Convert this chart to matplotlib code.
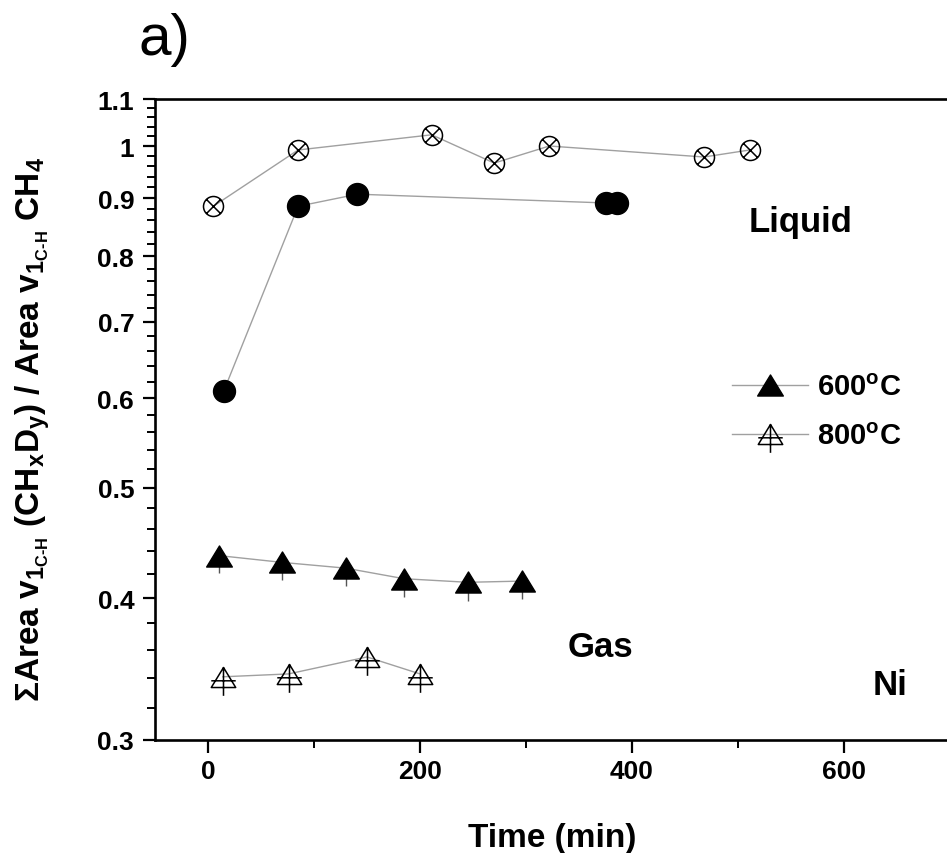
import numpy as np
import matplotlib
matplotlib.use('Agg')
import matplotlib.pyplot as plt
from matplotlib.path import Path
from matplotlib.lines import Line2D
from matplotlib.ticker import FixedLocator, FixedFormatter, NullFormatter, MultipleLocator

plt.rcParams['font.family'] = ['Liberation Sans', 'DejaVu Sans']
plt.rcParams['font.weight'] = 'bold'
plt.rcParams['mathtext.fontset'] = 'custom'
plt.rcParams['mathtext.rm'] = 'Liberation Sans:bold'
plt.rcParams['mathtext.it'] = 'Liberation Sans:bold'
plt.rcParams['mathtext.bf'] = 'Liberation Sans:bold'
plt.rcParams['mathtext.default'] = 'rm'

# liquid phase, 800 C (crossed circles)
liq800_t = [5, 85, 211, 270, 322, 468, 511]
liq800_r = [0.885, 0.992, 1.023, 0.966, 1.0, 0.978, 0.992]
# liquid phase, 600 C (filled circles)
liq600_t = [15, 85, 141, 375, 386]
liq600_r = [0.609, 0.885, 0.907, 0.891, 0.891]
# gas phase, 600 C
gas600_t = [10, 70, 130, 185, 245, 296]
gas600_r = [0.436, 0.430, 0.425, 0.416, 0.413, 0.414]
gas600_err = [0.015, 0.015, 0.015, 0.015, 0.015, 0.015]
# gas phase, 800 C
gas800_t = [14, 76, 150, 200]
gas800_r = [0.341, 0.343, 0.355, 0.343]

yticks = [0.3, 0.4, 0.5, 0.6, 0.7, 0.8, 0.9, 1.0, 1.1]
ytick_labels = ['0.3', '0.4', '0.5', '0.6', '0.7', '0.8', '0.9', '1', '1.1']
xticks = [0, 200, 400, 600]
legend_labels = ['600$^{\\mathrm{o}}$C', '800$^{\\mathrm{o}}$C']

# custom markers
M, L, C = Path.MOVETO, Path.LINETO, Path.CLOSEPOLY
circ_x = Path.make_compound_path(
    Path.unit_circle(),
    Path([(-0.7071, -0.7071), (0.7071, 0.7071), (-0.7071, 0.7071), (0.7071, -0.7071)], [M, L, M, L]))
tri = Path([(0, 1), (-1.22, -1), (1.22, -1), (0, 1)], [M, L, L, C])
tri_cross = Path.make_compound_path(
    tri, Path([(0, 1), (0, -1.83), (-1.22, -0.33), (1.22, -0.33)], [M, L, M, L]))

line_col = '#a0a0a0'

fig = plt.figure(figsize=(9.47, 8.54), dpi=100)
ax = fig.add_axes([155/947, 1-741/854, (950-155)/947, (741-100)/854])
ax.set_yscale('log')

ax.plot(liq800_t, liq800_r, color=line_col, lw=1, marker=circ_x, ms=14.4,
        mfc='none', mec='k', mew=1.1, zorder=3)
ax.plot(liq600_t, liq600_r, color=line_col, lw=1, marker='o', ms=15.8,
        mfc='k', mec='k', zorder=3)
# only the lower half of the error bar shows below the triangle
ax.errorbar(gas600_t, gas600_r, yerr=[gas600_err, np.zeros(len(gas600_err))], fmt='none',
            ecolor='#555555', elinewidth=1, capsize=0, zorder=2)
ax.plot(gas600_t, gas600_r, color=line_col, lw=1, marker=tri, ms=18.5,
        mfc='k', mec='k', zorder=3)
ax.plot(gas800_t, gas800_r, color=line_col, lw=1, marker=tri_cross, ms=26.4,
        mfc='none', mec='k', mew=1.1, zorder=3)

ax.set_xlim(-50, 700)
ax.set_ylim(0.3, 1.1)
ax.yaxis.set_major_locator(FixedLocator(yticks))
ax.yaxis.set_major_formatter(FixedFormatter(ytick_labels))
ax.yaxis.set_minor_locator(FixedLocator(np.round(np.arange(0.32, 1.1, 0.02), 2)))
ax.yaxis.set_minor_formatter(NullFormatter())
ax.xaxis.set_major_locator(FixedLocator(xticks))
ax.xaxis.set_minor_locator(MultipleLocator(100))

for s in ax.spines.values():
    s.set_linewidth(1.9)
ax.tick_params(which='major', direction='out', length=9, width=1.6, labelsize=19, pad=5)
ax.tick_params(which='minor', direction='out', length=5.5, width=1.4)
ax.tick_params(axis='y', which='major', pad=6)

ax.set_xlabel('Time (min)', fontsize=24, fontweight='bold', labelpad=28)

ax.text(510, 0.8416, 'Liquid', fontsize=25, fontweight='bold', ha='left', va='baseline')
ax.text(339, 0.356, 'Gas', fontsize=25, fontweight='bold', ha='left', va='baseline')
ax.text(627, 0.329, 'Ni', fontsize=25, fontweight='bold', ha='left', va='baseline')

handles = [
    Line2D([], [], color=line_col, lw=1, marker=tri, ms=18.5, mfc='k', mec='k'),
    Line2D([], [], color=line_col, lw=1, marker=tri_cross, ms=26.4, mfc='none', mec='k', mew=1.1),
]
ax.legend(handles, legend_labels, loc='center left', bbox_to_anchor=(732/947, 1-413/854),
          bbox_transform=fig.transFigure, frameon=False, fontsize=21, numpoints=1,
          handlelength=2.6, handletextpad=0.3, labelspacing=0.72, borderpad=0, borderaxespad=0)

ylabel = (r'$\Sigma$Area v$_{1_{\text{C-H}}}$ (CH$_x$D$_y$) / Area v$_{1_{\text{C-H}}}$ CH$_4$')
fig.text(40/947, 1-429/854, ylabel, rotation=90, rotation_mode='anchor',
         ha='center', va='baseline', fontsize=24, fontweight='bold')

fig.text(138/947, 1-55/854, 'a)', fontsize=42, fontweight='normal', ha='left', va='baseline')

fig.savefig('out.png', dpi=100)
